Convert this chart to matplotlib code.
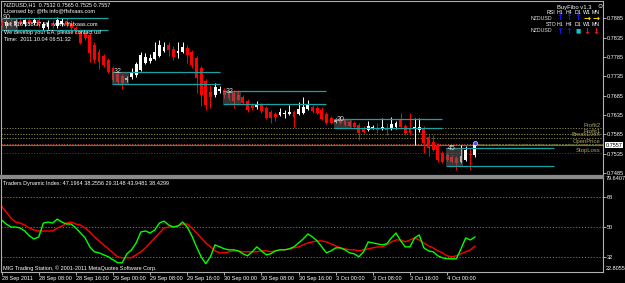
import numpy as np
import matplotlib
matplotlib.use('Agg')
import matplotlib.pyplot as plt
from matplotlib.patches import Rectangle
import matplotlib.transforms as mtransforms

plt.rcParams['font.family'] = ['Liberation Sans', 'DejaVu Sans']

# NZDUSD H1, 28 Sep 2011 00:00 -> 4 Oct 2011 06:00 (one bar per hour, weekend skipped)
opens = [0.7876, 0.7866, 0.7876, 0.7868, 0.7879, 0.7871, 0.7881, 0.7873, 0.7881, 0.7860,
         0.7863, 0.7873, 0.7866, 0.7871, 0.7879, 0.7871, 0.7860, 0.7853, 0.7848, 0.7842,
         0.7816, 0.7798, 0.7788, 0.7778, 0.7757, 0.7741, 0.7736, 0.7726, 0.7734, 0.7739,
         0.7752, 0.7770, 0.7775, 0.7780, 0.7788, 0.7801, 0.7816, 0.7806, 0.7796, 0.7798,
         0.7809, 0.7798, 0.7783, 0.7757, 0.7723, 0.7695, 0.7687, 0.7697, 0.7700, 0.7692,
         0.7692, 0.7687, 0.7682, 0.7671, 0.7661, 0.7656, 0.7661, 0.7653, 0.7643, 0.7638,
         0.7635, 0.7638, 0.7638, 0.7643, 0.7638, 0.7640, 0.7651, 0.7656, 0.7653, 0.7648,
         0.7638, 0.7627, 0.7617, 0.7622, 0.7622, 0.7617, 0.7614, 0.7609, 0.7602, 0.7596,
         0.7602, 0.7602, 0.7602, 0.7602, 0.7602, 0.7604, 0.7622, 0.7607, 0.7602, 0.7602,
         0.7596, 0.7602, 0.7578, 0.7565, 0.7557, 0.7537, 0.7532, 0.7526, 0.7524, 0.7513,
         0.7519, 0.7534, 0.7532]
highs = [0.7886, 0.7881, 0.7884, 0.7884, 0.7889, 0.7884, 0.7889, 0.7886, 0.7889, 0.7876,
         0.7881, 0.7881, 0.7889, 0.7886, 0.7886, 0.7881, 0.7866, 0.7858, 0.7853, 0.7848,
         0.7824, 0.7806, 0.7793, 0.7783, 0.7762, 0.7746, 0.7741, 0.7736, 0.7757, 0.7772,
         0.7798, 0.7796, 0.7793, 0.7824, 0.7829, 0.7824, 0.7824, 0.7814, 0.7824, 0.7824,
         0.7816, 0.7803, 0.7788, 0.7762, 0.7728, 0.7713, 0.7718, 0.7710, 0.7705, 0.7697,
         0.7700, 0.7700, 0.7687, 0.7677, 0.7666, 0.7671, 0.7666, 0.7658, 0.7648, 0.7643,
         0.7653, 0.7648, 0.7661, 0.7648, 0.7669, 0.7682, 0.7674, 0.7661, 0.7658, 0.7656,
         0.7643, 0.7633, 0.7627, 0.7627, 0.7627, 0.7622, 0.7620, 0.7614, 0.7607, 0.7620,
         0.7609, 0.7614, 0.7627, 0.7614, 0.7630, 0.7620, 0.7640, 0.7612, 0.7640, 0.7627,
         0.7627, 0.7607, 0.7583, 0.7583, 0.7563, 0.7542, 0.7537, 0.7532, 0.7529, 0.7557,
         0.7555, 0.7550, 0.7565]
lows = [0.7863, 0.7860, 0.7863, 0.7863, 0.7868, 0.7866, 0.7868, 0.7868, 0.7863, 0.7855,
        0.7858, 0.7860, 0.7860, 0.7866, 0.7863, 0.7855, 0.7848, 0.7819, 0.7829, 0.7772,
        0.7770, 0.7754, 0.7759, 0.7744, 0.7721, 0.7715, 0.7702, 0.7721, 0.7728, 0.7734,
        0.7749, 0.7767, 0.7770, 0.7778, 0.7785, 0.7798, 0.7788, 0.7778, 0.7783, 0.7796,
        0.7770, 0.7757, 0.7692, 0.7658, 0.7648, 0.7653, 0.7682, 0.7692, 0.7679, 0.7674,
        0.7653, 0.7671, 0.7664, 0.7643, 0.7648, 0.7651, 0.7640, 0.7625, 0.7614, 0.7620,
        0.7633, 0.7627, 0.7635, 0.7604, 0.7635, 0.7638, 0.7648, 0.7640, 0.7638, 0.7622,
        0.7612, 0.7612, 0.7614, 0.7612, 0.7607, 0.7604, 0.7602, 0.7570, 0.7589, 0.7594,
        0.7599, 0.7589, 0.7596, 0.7583, 0.7596, 0.7599, 0.7602, 0.7583, 0.7583, 0.7557,
        0.7591, 0.7537, 0.7529, 0.7542, 0.7513, 0.7511, 0.7516, 0.7511, 0.7493, 0.7511,
        0.7516, 0.7493, 0.7525]
closes = [0.7866, 0.7876, 0.7868, 0.7879, 0.7871, 0.7881, 0.7873, 0.7881, 0.7868, 0.7871,
          0.7873, 0.7866, 0.7881, 0.7879, 0.7868, 0.7860, 0.7853, 0.7822, 0.7835, 0.7796,
          0.7778, 0.7772, 0.7765, 0.7746, 0.7726, 0.7721, 0.7718, 0.7731, 0.7746, 0.7767,
          0.7791, 0.7785, 0.7783, 0.7798, 0.7816, 0.7811, 0.7803, 0.7785, 0.7801, 0.7811,
          0.7791, 0.7765, 0.7731, 0.7687, 0.7661, 0.7682, 0.7708, 0.7702, 0.7687, 0.7679,
          0.7671, 0.7674, 0.7666, 0.7648, 0.7653, 0.7664, 0.7646, 0.7627, 0.7627, 0.7630,
          0.7643, 0.7640, 0.7643, 0.7630, 0.7651, 0.7656, 0.7661, 0.7646, 0.7640, 0.7625,
          0.7614, 0.7614, 0.7622, 0.7614, 0.7609, 0.7607, 0.7604, 0.7589, 0.7591, 0.7607,
          0.7604, 0.7596, 0.7604, 0.7596, 0.7612, 0.7614, 0.7604, 0.7589, 0.7589, 0.7604,
          0.7604, 0.7563, 0.7550, 0.7545, 0.7519, 0.7513, 0.7519, 0.7513, 0.7511, 0.7529,
          0.7545, 0.7532, 0.7557]

# Traders Dynamic Index: RSI price line (green) and trade signal line (red)
tdi_green = [54.2, 51.8, 50.0, 50.0, 49.4, 47.6, 44.6, 42.8, 44.0, 52.4,
             53.0, 52.4, 54.8, 53.0, 51.8, 51.8, 49.4, 46.4, 43.4, 38.0,
             35.0, 34.4, 33.2, 32.0, 30.2, 28.4, 28.4, 33.8, 36.2, 40.4,
             47.0, 47.6, 46.4, 48.2, 52.4, 53.6, 51.2, 50.0, 50.6, 53.0,
             50.0, 44.6, 38.0, 32.0, 27.8, 32.0, 39.2, 38.0, 36.8, 36.2,
             36.2, 35.6, 33.8, 32.6, 35.0, 38.0, 35.6, 33.2, 33.8, 35.6,
             36.2, 36.2, 36.8, 38.0, 40.4, 42.8, 45.8, 44.0, 41.6, 38.0,
             34.4, 35.6, 37.4, 37.4, 36.2, 34.4, 33.8, 32.0, 35.0, 41.0,
             40.4, 39.8, 39.2, 39.8, 43.4, 46.4, 41.6, 38.0, 38.0, 43.4,
             45.2, 37.4, 35.6, 35.0, 32.6, 31.4, 30.8, 30.8, 30.8, 36.8,
             43.4, 42.2, 43.9481]
tdi_red = [62.6, 59.0, 55.4, 53.0, 52.4, 51.2, 49.4, 48.2, 47.6, 47.6,
           47.6, 47.6, 49.4, 50.6, 52.4, 53.0, 51.8, 51.2, 49.4, 47.0,
           44.0, 41.6, 39.2, 36.8, 34.4, 32.0, 31.4, 31.4, 31.4, 33.2,
           35.0, 37.4, 40.4, 43.4, 46.4, 49.4, 50.0, 50.0, 50.6, 51.8,
           51.8, 49.4, 46.4, 43.4, 40.4, 38.0, 35.6, 34.4, 34.4, 35.0,
           35.6, 35.6, 35.0, 35.0, 35.0, 35.0, 35.6, 35.6, 35.0, 35.6,
           36.2, 36.2, 36.8, 37.4, 38.0, 39.2, 40.4, 41.0, 41.6, 41.6,
           41.0, 39.8, 38.6, 37.4, 36.8, 36.2, 36.2, 35.6, 36.2, 36.8,
           37.4, 38.0, 38.0, 39.2, 41.0, 42.2, 42.2, 41.0, 42.2, 43.4,
           42.2, 40.4, 38.6, 37.4, 35.6, 34.4, 32.6, 32.0, 32.6, 33.8,
           35.0, 36.2, 38.4299]

time_labels = ['28 Sep 2011', '28 Sep 08:00', '28 Sep 16:00', '29 Sep 00:00', '29 Sep 08:00',
               '29 Sep 16:00', '30 Sep 00:00', '30 Sep 08:00', '30 Sep 16:00', '3 Oct 00:00',
               '3 Oct 08:00', '3 Oct 16:00', '4 Oct 00:00']
time_label_bars = [0, 8, 16, 24, 32, 40, 48, 56, 64, 72, 80, 88, 96]
price_ticks = [0.7885, 0.7835, 0.7785, 0.7735, 0.7685, 0.7635, 0.7585, 0.7535, 0.7485]

# fibo zones drawn by BuyFibo
fib_labels = ['90', '32', '32', '20', '45']
fib_start = [0, 24, 48, 72, 96]
fib_end = [23, 47, 70, 95, 119]
fib_high = [0.7886, 0.7747, 0.7696, 0.7624, 0.7549]
fib_low = [0.7855, 0.7714, 0.7664, 0.7602, 0.7504]

# open order levels
order_names = ['Profit2', 'Profit1', 'BreakEven', 'OpenPrice', 'StopLoss']
order_prices = [0.7601, 0.7585, 0.7576, 0.75595, 0.7536]
bid = 0.7557

W, H = 625, 283
fig = plt.figure(figsize=(W / 100, H / 100), dpi=100, facecolor='black')


def fx(x):
    return x / W


def fy(y):
    return 1 - y / H


ax = fig.add_axes([fx(1), fy(176), fx(602), 175 / H], facecolor='black')
ax2 = fig.add_axes([fx(1), fy(272), fx(602), 94 / H], facecolor='black')

xmin, xmax = -0.13, 129.6
for a in (ax, ax2):
    a.set_xlim(xmin, xmax)
    for s in a.spines.values():
        s.set_color('#b0b0b0')
        s.set_linewidth(0.8)
ax.spines['bottom'].set_color('#8a8a8a')
ax.spines['bottom'].set_linewidth(1.6)
ax2.spines['top'].set_color('#8a8a8a')
ax2.spines['top'].set_linewidth(1.6)

# ---- price panel ----
ax.set_ylim(0.7477, 0.7930)
idx = np.arange(len(opens))
o, h, l, c = (np.array(v) for v in (opens, highs, lows, closes))
up = c >= o
cols = np.where(up, 'white', '#ff0000')
ax.vlines(idx, l, h, colors=cols, linewidth=0.7, zorder=3)
body = np.maximum(np.abs(c - o), 0.00008)
ax.bar(idx, body, bottom=np.minimum(o, c), width=0.62, color=cols, linewidth=0, zorder=3)

for lab, s, e, hi, lo in zip(fib_labels, fib_start, fib_end, fib_high, fib_low):
    ax.hlines([hi, lo], s - 0.3, e, colors='#1aa3a3', linewidth=0.9, zorder=4)
    ax.add_patch(Rectangle((s - 0.3, lo), 3.8, hi - lo, facecolor='#6a6a6a', alpha=0.5,
                           edgecolor='none', zorder=4))
    ax.text(s + 0.2, hi, lab, color='#d8d8d8', fontsize=5, va='center', ha='left', zorder=5)

order_cols = ['#8c8a48', '#8c8a48', '#8c8a48', '#c0501e', '#8b1c1c']
for name, p, col in zip(order_names, order_prices, order_cols):
    ax.axhline(p, color=col, linewidth=0.7, linestyle=(0, (1.2, 1.6)), zorder=2)
    ax.text(xmax - 0.5, p + 0.0001, name, color='#aaa46a', fontsize=4.2, ha='right', va='bottom', zorder=5)
ax.axhline(bid, color='#6e6e6e', linewidth=0.8, zorder=1)
ax.hlines(order_prices[3], 102, xmax, colors='#3b8a3b', linewidth=0.6, linestyles=(0, (2, 2)), zorder=2)
ax.plot(102, 0.7563, marker='o', ms=3, mfc='#3a50ff', mec='white', mew=0.4, zorder=6)

ax.set_xticks([])
ax.yaxis.tick_right()
ax.set_yticks(price_ticks)
ax.set_yticklabels([f'{p:.4f}' for p in price_ticks])
ax.tick_params(axis='y', colors='#c8c8c8', labelcolor='white', labelsize=4, length=2, width=0.6, pad=1)
ax.text(1.004, bid, f'{bid:.4f}', transform=mtransforms.blended_transform_factory(ax.transAxes, ax.transData),
        color='black', fontsize=4, va='center', ha='left',
        bbox=dict(facecolor='white', edgecolor='none', pad=0.6))

# header texts
fs = 4.0
fig.text(fx(4), fy(5), 'NZDUSD,H1  0.7532 0.7565 0.7525 0.7557', color='white', fontsize=fs, va='center')
fig.text(fx(4), fy(12), 'Licensed by: @ffs info@ffsfxaas.com', color='white', fontsize=fs, va='center')
fig.text(fx(4), fy(25), 'Tel: 216 658 37 59   www.ffsfxaas.com', color='white', fontsize=fs, va='center')
fig.text(fx(4), fy(33), 'We develop your EA, please contact us!', color='white', fontsize=fs, va='center')
fig.text(fx(4), fy(39.5), 'Time:  2011.10.04 06:51:32', color='white', fontsize=fs, va='center')

# BuyFibo signal table
fig.text(fx(557), fy(7), 'BuyFibo v1.3', color='white', fontsize=4.2, va='center')
fig.text(fx(600), fy(7), '\u263a', color='white', fontsize=5, va='center', ha='center')
col_x = [560, 569, 578, 587, 596]
heads = ['H1', 'H4', 'D1', 'W1', 'MN']
rows = [('RSI', 12, 18, ['\u2191', '\u2191', '\u2191', '\u2192', '\u2192'],
         ['#1010ff', '#1010ff', '#1010ff', '#ffd800', '#ffd800']),
        ('STO', 24, 31, ['\u2191', '\u2191', '\u25a0', '\u2193', '\u2193'],
         ['#1010ff', '#1010ff', '#00c8d0', '#ff1010', '#ff1010'])]
for name, yh, ya, syms, scol in rows:
    fig.text(fx(551), fy(yh), name, color='white', fontsize=3.8, ha='center', va='center')
    for x, hd, sy, sc in zip(col_x, heads, syms, scol):
        fig.text(fx(x), fy(yh), hd, color='white', fontsize=3.8, ha='center', va='center')
        fig.text(fx(x), fy(ya), sy, color=sc, fontsize=6 if sy != '\u25a0' else 4,
                 fontweight='bold', ha='center', va='center', family='DejaVu Sans')
    fig.text(fx(541), fy(ya), 'NZDUSD', color='#e0e0e0', fontsize=3.8, ha='center', va='center')

# ---- indicator panel ----
ax2.set_ylim(22.8055, 79.6407)
for lvl in (68, 50, 32):
    ax2.axhline(lvl, color='#808080', linewidth=0.6, linestyle=(0, (1.5, 2)))
ax2.plot(idx, tdi_red, color='#ff0000', linewidth=1.0)
ax2.plot(idx, tdi_green, color='#00ff00', linewidth=1.0)
ax2.yaxis.tick_right()
ax2.set_yticks([68, 50, 32])
ax2.set_yticklabels(['68', '50', '32'])
ax2.tick_params(axis='y', colors='#c8c8c8', labelcolor='white', labelsize=4, length=2, width=0.6, pad=1)
fig.text(fx(606), fy(179), '79.6407', color='white', fontsize=4, va='center')
fig.text(fx(606), fy(268.5), '22.8055', color='white', fontsize=4, va='center')
fig.text(fx(3), fy(183), 'Traders Dynamic Index: 47.1964 38.2556 29.3148 43.9481 38.4299',
         color='white', fontsize=fs, va='center')
fig.text(fx(3), fy(268), 'MIG Trading Station, \u00a9 2001-2011 MetaQuotes Software Corp.',
         color='white', fontsize=fs, va='center')

ax2.set_xticks(time_label_bars)
ax2.set_xticklabels(time_labels)
ax2.tick_params(axis='x', colors='#c8c8c8', labelcolor='white', labelsize=4, length=2, width=0.6, pad=1)
plt.setp(ax2.get_xticklabels(), ha='left')

fig.savefig('out.png', dpi=100, facecolor='black')
